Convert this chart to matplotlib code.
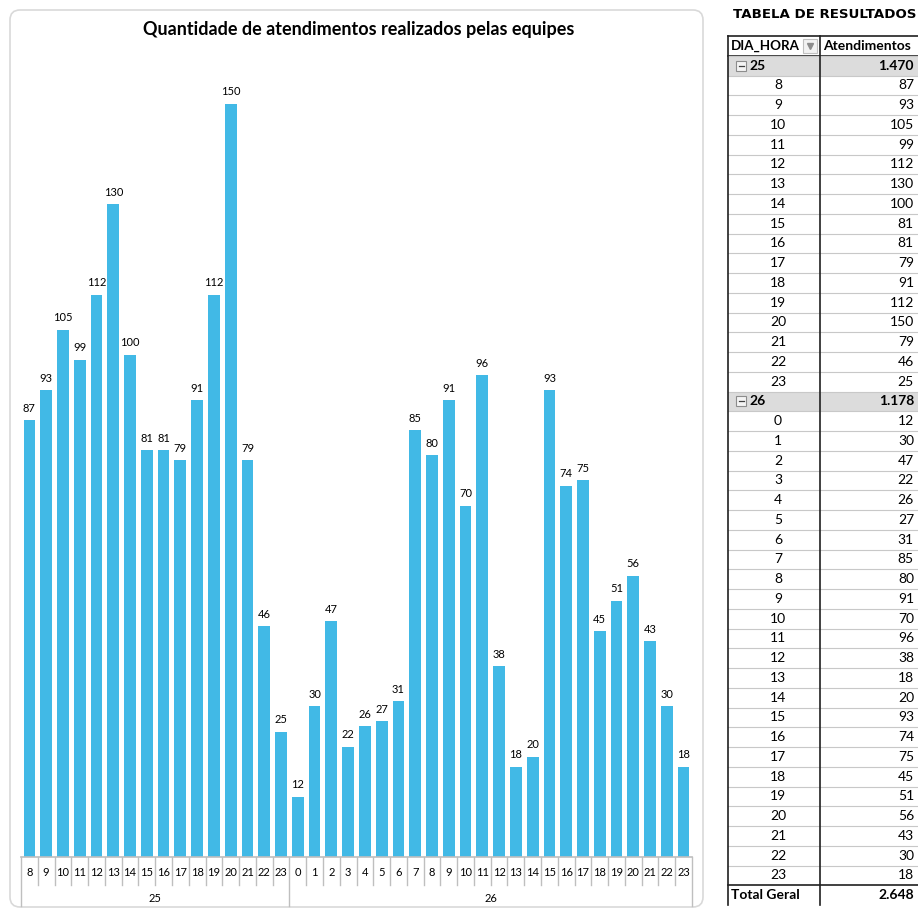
import matplotlib.pyplot as plt
import matplotlib.transforms as mtransforms
from matplotlib.patches import FancyBboxPatch, Rectangle

dias = ["25", "26"]
horas_25 = ["8", "9", "10", "11", "12", "13", "14", "15", "16", "17", "18", "19", "20", "21", "22", "23"]
atend_25 = [87, 93, 105, 99, 112, 130, 100, 81, 81, 79, 91, 112, 150, 79, 46, 25]
horas_26 = ["0", "1", "2", "3", "4", "5", "6", "7", "8", "9", "10", "11", "12",
            "13", "14", "15", "16", "17", "18", "19", "20", "21", "22", "23"]
atend_26 = [12, 30, 47, 22, 26, 27, 31, 85, 80, 91, 70, 96, 38, 18, 20, 93, 74, 75,
            45, 51, 56, 43, 30, 18]

titulo = "Quantidade de atendimentos realizados pelas equipes"
cor_barra = "#41B9E6"
fonte = "Lato"


def fmt(n):
    return f"{n:,}".replace(",", ".")


W, H = 918, 911
fig = plt.figure(figsize=(W / 100, H / 100), dpi=100)

# fundo em pixels (moldura do grafico e tabela)
bg = fig.add_axes([0, 0, 1, 1])
bg.set_xlim(0, W)
bg.set_ylim(H, 0)
bg.axis("off")

bg.add_patch(FancyBboxPatch((10, 10), 693, 897, boxstyle="round,pad=0,rounding_size=10",
                            fc="white", ec="#d9d9d9", lw=1.2))
bg.text(359, 30, titulo, ha="center", va="center", fontsize=13,
        fontweight="bold", family=fonte)

# grafico de barras
grupos = [(dias[0], horas_25, atend_25), (dias[1], horas_26, atend_26)]
valores = atend_25 + atend_26
rotulos = horas_25 + horas_26
n = len(valores)
x = list(range(n))

ax = fig.add_axes([21 / W, (H - 857) / H, (692 - 21) / W, (857 - 57) / H])
ax.set_xlim(-0.5, n - 0.5)
ax.set_ylim(0, 800 / 5.02)
ax.bar(x, valores, width=0.7, color=cor_barra)
for i, v in zip(x, valores):
    ax.text(i, v + 2.4, str(v), ha="center", va="center", fontsize=8, family=fonte)
for s in ax.spines.values():
    s.set_visible(False)
ax.set_xticks([])
ax.set_yticks([])
ax.axhline(0, color="#bfbfbf", lw=1.2, clip_on=False)

tr = mtransforms.blended_transform_factory(ax.transData, ax.transAxes)
for i, lab in enumerate(rotulos):
    ax.text(i, -15 / 800, lab, transform=tr, ha="center", va="center",
            fontsize=8, family=fonte)
inicio = 0
limites = [-0.5]
for dia, hs, vs in grupos:
    fim = inicio + len(hs)
    ax.text((inicio + fim - 1) / 2, -41 / 800, dia, transform=tr, ha="center",
            va="center", fontsize=8, family=fonte)
    limites.append(fim - 0.5)
    inicio = fim
for k in range(n + 1):
    xs = k - 0.5
    y1 = -49 / 800 if xs in limites else -28 / 800
    ax.plot([xs, xs], [0, y1], transform=tr, color="#bfbfbf", lw=1, clip_on=False)

# tabela de resultados
bg.text(733, 14, "TABELA DE RESULTADOS", ha="left", va="center", fontsize=9.6,
        fontweight="bold", family="DejaVu Sans")

c0, c1, c2 = 728, 820, 930
y0, rh = 36, 19.75
linhas = [("header", "DIA_HORA", "Atendimentos")]
for dia, hs, vs in grupos:
    linhas.append(("grupo", dia, fmt(sum(vs))))
    for h, v in zip(hs, vs):
        linhas.append(("hora", h, str(v)))
linhas.append(("total", "Total Geral", fmt(sum(valores))))

fs = 10
for r, (tipo, a, b) in enumerate(linhas):
    top = y0 + r * rh
    yc = top + rh / 2
    if tipo == "grupo":
        bg.add_patch(Rectangle((c0, top), c2 - c0, rh, fc="#dcdcdc", ec="none"))
        bg.add_patch(Rectangle((736, yc - 5), 10, 10, fc="#f4f4f4", ec="#8c8c8c", lw=0.8))
        bg.plot([738.5, 743.5], [yc, yc], color="#404040", lw=0.9)
        bg.text(749, yc, a, ha="left", va="center", fontsize=fs, fontweight="bold", family=fonte)
        bg.text(914, yc, b, ha="right", va="center", fontsize=fs, fontweight="bold", family=fonte)
    elif tipo == "header":
        bg.text(731, yc, a, ha="left", va="center", fontsize=9.6, fontweight="bold", family=fonte)
        bg.text(823, yc, b, ha="left", va="center", fontsize=fs, fontweight="bold", family=fonte)
        bg.add_patch(Rectangle((802.5, top + 3), 14, 14, fc="#f2f2f2", ec="#c0c0c0", lw=0.8))
        bg.plot([809.5], [yc], marker="v", ms=4, color="#8c8c8c")
    elif tipo == "total":
        bg.text(731, yc, a, ha="left", va="center", fontsize=fs, fontweight="bold", family=fonte)
        bg.text(914, yc, b, ha="right", va="center", fontsize=fs, fontweight="bold", family=fonte)
    else:
        bg.text(778, yc, a, ha="center", va="center", fontsize=fs, family=fonte)
        bg.text(914, yc, b, ha="right", va="center", fontsize=fs, family=fonte)
    escura = tipo in ("header", "total")
    bg.plot([c0, c2], [top, top], color="#202020" if escura else "#c8c8c8",
            lw=1.2 if escura else 0.8)
    if tipo == "header":
        bg.plot([c0, c2], [top + rh, top + rh], color="#202020", lw=1.2)

fim_tab = y0 + len(linhas) * rh
for xv in (c0, c1):
    bg.plot([xv, xv], [y0, fim_tab], color="#202020", lw=1.2)

fig.savefig("out.png", dpi=100)
